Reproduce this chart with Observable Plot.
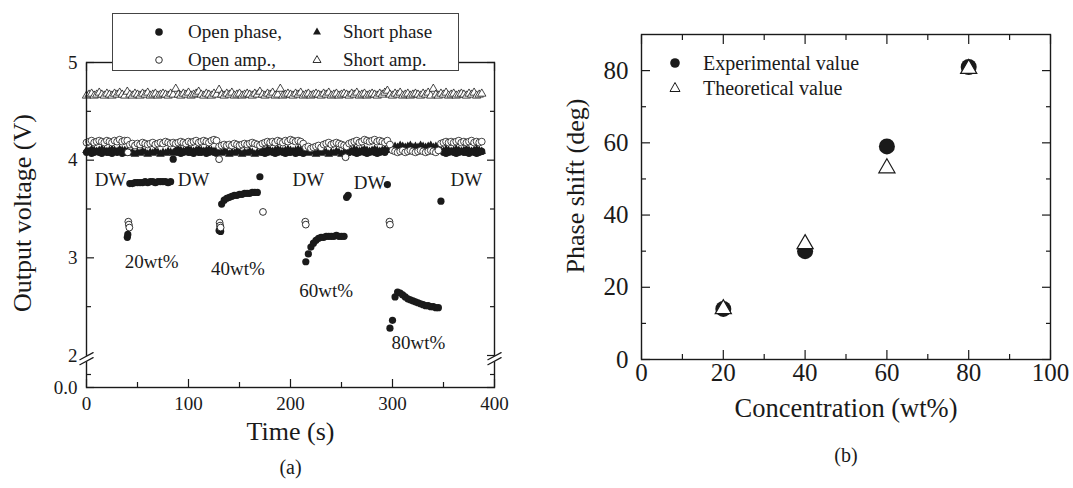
<!DOCTYPE html>
<html><head><meta charset="utf-8">
<script src="https://cdn.jsdelivr.net/npm/d3@7"></script>
<script src="https://cdn.jsdelivr.net/npm/@observablehq/plot@0.6"></script>
<style>
body{margin:0;background:#fff;}
#wrap{position:relative;width:1073px;height:488px;font-family:"Liberation Serif",serif;color:#1a1a1a;overflow:hidden;}
#left{position:absolute;left:0;top:0;}
#right{position:absolute;left:545px;top:0;}
#wrap svg text{font-family:"Liberation Serif",serif;}
.legbox{position:absolute;left:112px;top:13px;width:345px;height:56px;border:1px solid #444;background:#fff;}
.li{position:absolute;font-size:19px;line-height:19px;white-space:nowrap;}
.sym{position:absolute;}
.rl{position:absolute;font-size:20px;line-height:20px;white-space:nowrap;}
</style></head>
<body><div id="wrap"><div id="left"></div><div id="right"></div>
<div class="legbox"></div>
<svg class="sym" style="left:150px;top:23px" width="18" height="18"><circle cx="9" cy="9" r="3.8" fill="#1a1a1a"/></svg>
<div class="li" style="left:188px;top:22px">Open phase,</div>
<svg class="sym" style="left:308px;top:23px" width="18" height="18"><path d="M9,4.5 L13,11.5 L5,11.5Z" fill="#1a1a1a"/></svg>
<div class="li" style="left:343px;top:22px">Short phase</div>
<svg class="sym" style="left:150px;top:51px" width="18" height="18"><circle cx="9" cy="9" r="3.3" fill="#fff" stroke="#1a1a1a" stroke-width="0.9"/></svg>
<div class="li" style="left:188px;top:50px">Open amp.,</div>
<svg class="sym" style="left:308px;top:51px" width="18" height="18"><path d="M9,4.6 L13,11.5 L5,11.5Z" fill="#fff" stroke="#1a1a1a" stroke-width="0.9"/></svg>
<div class="li" style="left:343px;top:50px">Short amp.</div>
<svg class="sym" style="left:665px;top:53px" width="20" height="20"><circle cx="10" cy="10" r="4.8" fill="#1a1a1a"/></svg>
<div class="rl" style="left:703px;top:53px">Experimental value</div>
<svg class="sym" style="left:665px;top:78px" width="20" height="20"><path d="M10,4.5 L15,13.5 L5,13.5Z" fill="#fff" stroke="#1a1a1a" stroke-width="1"/></svg>
<div class="rl" style="left:703px;top:78px">Theoretical value</div>
</div>
<script>
// ---------- Panel (a): time series, sampled every 2.5 s ----------
const sampleStep = 2.5;
const openPhase = [
 4.08,4.09,4.07,4.08,4.09,4.08,4.07,4.09,4.08,4.08,4.07,4.09,4.08,4.09,4.07,4.08,
 3.21,
 3.76,3.76,3.77,3.77,3.77,3.77,3.78,3.77,3.78,3.78,3.77,3.78,3.78,3.78,3.78,3.77,3.78,
 4.01,
 4.09,4.08,4.07,4.08,4.09,4.08,4.08,4.07,4.09,4.08,4.08,4.09,4.07,4.08,4.09,4.08,4.07,
 3.28,
 3.55,3.59,3.61,3.62,3.63,3.64,3.64,3.65,3.65,3.66,3.66,3.66,3.67,3.67,3.67,
 3.83,
 4.08,4.07,4.08,4.09,4.08,4.07,4.08,4.09,4.08,4.07,4.08,4.08,4.09,4.07,4.08,4.08,4.07,
 2.96,3.04,3.11,3.15,3.18,3.20,3.21,3.21,3.22,3.22,3.22,3.22,3.23,3.22,3.22,3.22,
 3.62,
 4.08,4.09,4.08,4.07,4.08,4.09,4.08,4.07,4.08,4.09,4.08,4.07,4.08,4.09,4.08,
 3.75,
 2.28,2.36,
 2.60,2.65,2.64,2.62,2.60,2.58,2.57,2.56,2.55,2.54,2.53,2.52,2.51,2.51,2.50,2.50,2.49,2.49,
 3.58,
 4.08,4.07,4.08,4.09,4.08,4.07,4.08,4.09,4.08,4.08,4.07,4.09,4.08,4.07,4.08,4.09
];
const shortPhase = [
 4.10,4.09,4.11,4.10,4.09,4.10,4.11,4.10,4.09,4.10,4.11,4.10,4.09,4.11,4.10,4.10,
 4.09,4.07,4.08,4.06,4.08,4.07,4.09,4.08,4.06,4.08,4.07,4.09,4.08,4.06,4.08,4.07,4.09,4.08,4.07,
 4.10,4.11,4.10,4.09,4.10,4.11,4.10,4.09,4.10,4.11,4.10,4.09,4.10,4.11,4.10,4.09,4.10,
 4.08,4.07,4.09,4.08,4.06,4.08,4.07,4.09,4.08,4.06,4.08,4.07,4.09,4.08,4.06,4.08,4.07,
 4.10,4.09,4.11,4.10,4.09,4.10,4.11,4.10,4.09,4.10,4.11,4.10,4.09,4.10,4.11,4.10,4.09,
 4.08,4.07,4.09,4.08,4.06,4.08,4.07,4.09,4.08,4.06,4.08,4.07,4.09,4.08,4.06,4.08,4.07,
 4.10,4.09,4.11,4.10,4.09,4.10,4.11,4.10,4.09,4.10,4.11,4.10,4.09,4.10,4.11,4.10,4.12,
 4.13,4.14,4.13,4.15,4.14,4.13,4.14,4.15,4.13,4.14,4.13,4.15,4.14,4.13,4.14,4.15,4.13,4.14,4.13,
 4.10,4.09,4.11,4.10,4.09,4.10,4.11,4.10,4.09,4.10,4.11,4.10,4.09,4.10,4.11,4.10,4.09
];
const openAmp = [
 4.18,4.19,4.20,4.18,4.19,4.20,4.19,4.18,4.20,4.19,4.18,4.20,4.19,4.21,4.19,4.20,
 4.20,
 4.16,4.17,4.15,4.17,4.16,4.18,4.17,4.16,4.17,4.18,4.16,4.17,4.18,4.17,4.19,4.18,4.17,4.18,
 4.17,4.18,4.19,4.18,4.17,4.19,4.18,4.19,4.20,4.18,4.19,4.20,4.19,4.18,4.20,4.21,4.20,
 4.14,4.15,4.16,4.15,4.16,4.15,4.17,4.16,4.15,4.16,4.17,4.16,4.17,4.18,4.17,4.16,4.15,
 4.17,4.18,4.19,4.18,4.19,4.18,4.20,4.19,4.18,4.20,4.19,4.21,4.20,4.19,4.20,4.19,4.17,
 4.13,4.14,4.12,4.13,4.14,4.15,4.13,4.16,4.17,4.18,4.16,4.17,4.18,4.17,4.16,4.15,4.14,
 4.17,4.18,4.19,4.20,4.18,4.19,4.21,4.20,4.19,4.20,4.21,4.19,4.20,4.19,4.18,4.20,4.16,
 4.10,4.09,4.08,4.09,4.10,4.08,4.09,4.10,4.09,4.08,4.09,4.10,4.09,4.08,4.09,4.10,4.09,4.08,4.10,
 4.17,4.18,4.19,4.18,4.19,4.18,4.19,4.20,4.18,4.19,4.18,4.19,4.20,4.18,4.19,4.18,4.19
];
const shortAmp = [
 4.66,4.67,4.68,4.66,4.67,4.69,4.67,4.66,4.68,4.67,4.66,4.68,4.67,4.69,4.67,4.66,
 4.70,4.67,4.66,4.68,4.67,4.66,4.68,4.67,4.69,4.66,4.67,4.68,4.66,4.67,4.68,4.67,
 4.66,4.68,4.67,4.73,4.67,4.66,4.68,4.67,4.69,4.66,4.67,4.68,4.70,4.67,4.66,4.68,
 4.67,4.66,4.68,4.67,4.72,4.67,4.66,4.68,4.67,4.69,4.66,4.67,4.68,4.66,4.67,4.68,
 4.67,4.66,4.68,4.67,4.70,4.67,4.66,4.68,4.67,4.69,4.66,4.67,4.73,4.66,4.67,4.68,
 4.67,4.66,4.68,4.67,4.69,4.66,4.67,4.68,4.66,4.67,4.68,4.67,4.66,4.68,4.67,4.69,
 4.66,4.67,4.68,4.66,4.67,4.68,4.67,4.66,4.68,4.67,4.69,4.66,4.67,4.68,4.66,4.67,
 4.68,4.67,4.66,4.68,4.67,4.69,4.71,4.67,4.66,4.68,4.67,4.69,4.66,4.67,4.68,4.66,
 4.67,4.68,4.67,4.66,4.68,4.67,4.69,4.66,4.73,4.67,4.66,4.68,4.67,4.69,4.66,4.67,
 4.68,4.66,4.67,4.68,4.67,4.66,4.68,4.67,4.69,4.66,4.67,4.68
];
// transition points read individually
const openPhaseExtraT = [40.5, 131, 131.5, 256.5];
const openPhaseExtraV = [3.24, 3.32, 3.27, 3.64];
const openAmpExtraT = [40.5, 41, 41.5, 42, 130, 130.5, 131, 131.5, 173, 214.5, 215, 254, 297, 297.5];
const openAmpExtraV = [4.08, 3.37, 3.34, 3.31, 4.01, 3.36, 3.33, 3.31, 3.47, 3.37, 3.34, 4.03, 3.37, 3.34];
const dwLabelT = [23.5, 105, 217.6, 277.5, 372.5];
const dwLabelV = [3.795, 3.795, 3.795, 3.77, 3.795];
const concLabels = ["20wt%", "40wt%", "60wt%", "80wt%"];
const concLabelT = [64, 148.5, 235, 325.5];
const concLabelV = [2.956, 2.884, 2.659, 2.133];
const timeTicks = [0, 100, 200, 300, 400];
const timeMinor = [50, 150, 250, 350];
const voltTicks = [0, 2, 3, 4, 5];
const voltMinor = [0.5, 2.5, 3.5, 4.5];

// ---------- Panel (b) ----------
const conc = [20, 40, 60, 80];
const experimental = [14, 30, 59, 81];
const theoretical = [14, 32, 53, 80.5];
const concTicks = [0, 20, 40, 60, 80, 100];
const concMinor = [10, 30, 50, 70, 90];
const phaseTicks = [0, 20, 40, 60, 80];
const phaseMinor = [10, 30, 50, 70];

const ink = "#1a1a1a";
const font = "Liberation Serif";
const toSeries = vals => vals.map((v, i) => ({t: i * sampleStep, v}));
const pairs = (T, V) => T.map((t, i) => ({t, v: V[i]}));
const slash = {draw(ctx, l) { ctx.moveTo(0, 0); ctx.lineTo(0, -l); }};

function inwardTicks(axis, anchor, ticks, size) {
  return axis({anchor, ticks, tickSize: -size, fill: "none", label: null, stroke: ink, strokeWidth: 1.2});
}

const left = Plot.plot({
  width: 545, height: 488,
  marginLeft: 86, marginRight: 51, marginTop: 62, marginBottom: 101,
  style: {fontFamily: font, fontSize: "19px", color: ink, background: "transparent"},
  x: {domain: [0, 400]},
  y: {type: "linear", domain: [0, 0.5, 2, 5], range: [387, 374, 355, 62]},
  marks: [
    Plot.dot(toSeries(shortAmp), {x: "t", y: "v", symbol: "triangle", r: 3.1, fill: "white", stroke: ink, strokeWidth: 0.8}),
    Plot.dot(toSeries(shortPhase), {x: "t", y: "v", symbol: "triangle", r: 3.2, fill: ink}),
    Plot.dot(toSeries(openPhase), {x: "t", y: "v", r: 3.6, fill: ink}),
    Plot.dot(pairs(openPhaseExtraT, openPhaseExtraV), {x: "t", y: "v", r: 3.6, fill: ink}),
    Plot.dot(toSeries(openAmp), {x: "t", y: "v", r: 3.4, fill: "white", stroke: ink, strokeWidth: 0.8}),
    Plot.dot(pairs(openAmpExtraT, openAmpExtraV), {x: "t", y: "v", r: 3.4, fill: "white", stroke: ink, strokeWidth: 0.9}),
    Plot.text(dwLabelT.map((t, i) => ({t, v: dwLabelV[i]})), {x: "t", y: "v", text: () => "DW", fontSize: 19, fontFamily: font, fill: ink}),
    Plot.text(concLabels.map((s, i) => ({s, t: concLabelT[i], v: concLabelV[i]})), {x: "t", y: "v", text: "s", fontSize: 19, fontFamily: font, fill: ink}),
    Plot.frame({stroke: ink, strokeWidth: 1.4}),
    inwardTicks(Plot.axisX, "bottom", timeTicks, 8),
    inwardTicks(Plot.axisX, "bottom", timeMinor, 5),
    inwardTicks(Plot.axisX, "top", timeTicks, 8),
    inwardTicks(Plot.axisX, "top", timeMinor, 5),
    inwardTicks(Plot.axisY, "left", voltTicks, 8),
    inwardTicks(Plot.axisY, "left", voltMinor, 5),
    inwardTicks(Plot.axisY, "right", voltTicks, 8),
    inwardTicks(Plot.axisY, "right", voltMinor, 5),
    Plot.axisX({anchor: "bottom", ticks: timeTicks, tickSize: 0, tickPadding: 9, fontSize: 19, fontFamily: font, fontVariant: "normal", label: null}),
    Plot.axisY({anchor: "left", ticks: voltTicks, tickSize: 0, tickPadding: 9, fontSize: 19, fontFamily: font, fontVariant: "normal", label: null,
      tickFormat: d => d === 0 ? "0.0" : String(d)}),
    Plot.vector([0, 400], {x: d => d, y: () => 1.75, length: 15, rotate: 62, anchor: "middle", shape: slash, stroke: "white", strokeWidth: 5}),
    Plot.vector([0, 400], {x: d => d, y: () => 1.75, length: 15, rotate: 62, anchor: "middle", shape: slash, stroke: ink, strokeWidth: 1.2, dy: -2.5}),
    Plot.vector([0, 400], {x: d => d, y: () => 1.75, length: 15, rotate: 62, anchor: "middle", shape: slash, stroke: ink, strokeWidth: 1.2, dy: 2.5}),
    Plot.text(["Time (s)"], {frameAnchor: "bottom", textAnchor: "middle", dy: 52, fontSize: 26, fontFamily: font, fill: ink}),
    Plot.text(["Output voltage (V)"], {frameAnchor: "left", textAnchor: "middle", rotate: -90, dx: -64, dy: -12, fontSize: 26, fontFamily: font, fill: ink}),
    Plot.text(["(a)"], {frameAnchor: "bottom", textAnchor: "middle", dy: 86, fontSize: 20, fontFamily: font, fill: ink})
  ]
});
document.getElementById("left").appendChild(left);

const right = Plot.plot({
  width: 528, height: 488,
  marginLeft: 96, marginRight: 23, marginTop: 34, marginBottom: 129,
  style: {fontFamily: font, fontSize: "25px", color: ink, background: "transparent"},
  x: {domain: [0, 100]},
  y: {domain: [0, 90]},
  marks: [
    Plot.frame({stroke: ink, strokeWidth: 1.4}),
    inwardTicks(Plot.axisX, "bottom", concTicks, 9),
    inwardTicks(Plot.axisX, "bottom", concMinor, 5),
    inwardTicks(Plot.axisX, "top", concTicks, 9),
    inwardTicks(Plot.axisX, "top", concMinor, 5),
    inwardTicks(Plot.axisY, "left", phaseTicks, 9),
    inwardTicks(Plot.axisY, "left", phaseMinor, 5),
    inwardTicks(Plot.axisY, "right", phaseTicks, 9),
    inwardTicks(Plot.axisY, "right", phaseMinor, 5),
    Plot.axisX({anchor: "bottom", ticks: concTicks, tickSize: 0, tickPadding: 4, fontSize: 25, fontFamily: font, fontVariant: "normal", label: null}),
    Plot.axisY({anchor: "left", ticks: phaseTicks, tickSize: 0, tickPadding: 13, fontSize: 25, fontFamily: font, fontVariant: "normal", label: null}),
    Plot.dot(conc.map((c, i) => ({c, v: experimental[i]})), {x: "c", y: "v", r: 8, fill: ink}),
    Plot.dot(conc.map((c, i) => ({c, v: theoretical[i]})), {x: "c", y: "v", symbol: "triangle", r: 6, fill: "white", stroke: ink, strokeWidth: 1.2}),
    Plot.text(["Concentration (wt%)"], {frameAnchor: "bottom", textAnchor: "middle", dy: 57, fontSize: 26.5, fontFamily: font, fill: ink}),
    Plot.text(["Phase shift (deg)"], {frameAnchor: "left", textAnchor: "middle", rotate: -90, dx: -66, dy: -11, fontSize: 26, fontFamily: font, fill: ink}),
    Plot.text(["(b)"], {frameAnchor: "bottom", textAnchor: "middle", dy: 102, fontSize: 20, fontFamily: font, fill: ink})
  ]
});
document.getElementById("right").appendChild(right);
</script>
</body></html>
